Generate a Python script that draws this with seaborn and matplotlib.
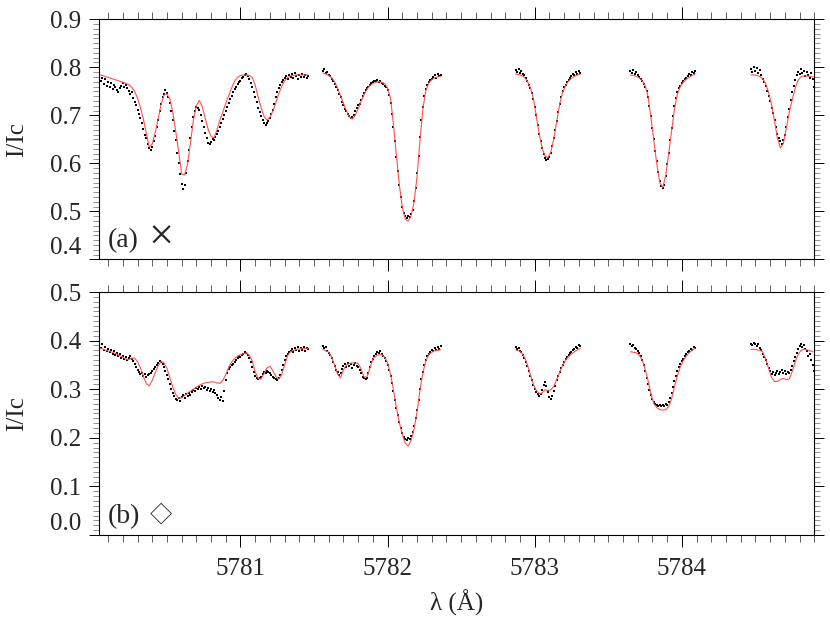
import numpy as np
import pandas as pd
import matplotlib
matplotlib.use("Agg")
import matplotlib.pyplot as plt
import seaborn as sns
from matplotlib.ticker import MultipleLocator, FormatStrFormatter

# ---- wavelength sampling of the five observed windows (first sample, step) ----
seg_starts = [5780.04, 5781.56, 5782.87, 5783.65, 5784.47]
fit_step = 0.02
obs_step = 0.01

# ---------------- panel (a) ----------------
top_fit_1 = [0.785, 0.783, 0.781, 0.779, 0.777, 0.775, 0.773, 0.771, 0.769, 0.767,
             0.764, 0.759, 0.750, 0.736, 0.716, 0.692, 0.662, 0.634, 0.640, 0.664,
             0.692, 0.722, 0.742, 0.745, 0.734, 0.706, 0.666, 0.624, 0.578, 0.576,
             0.598, 0.643, 0.690, 0.720, 0.731, 0.718, 0.694, 0.671, 0.656, 0.653,
             0.670, 0.690, 0.707, 0.725, 0.741, 0.757, 0.771, 0.779, 0.783, 0.784,
             0.784, 0.783, 0.779, 0.763, 0.738, 0.716, 0.698, 0.690, 0.696, 0.709,
             0.726, 0.745, 0.760, 0.772, 0.779, 0.782, 0.783, 0.784, 0.784, 0.784,
             0.784, 0.784]
top_fit_2 = [0.788, 0.786, 0.783, 0.778, 0.770, 0.757, 0.741, 0.725, 0.710, 0.697,
             0.692, 0.700, 0.714, 0.729, 0.743, 0.754, 0.762, 0.766, 0.769, 0.770,
             0.769, 0.766, 0.757, 0.735, 0.680, 0.616, 0.555, 0.508, 0.484, 0.480,
             0.491, 0.520, 0.572, 0.648, 0.714, 0.751, 0.767, 0.774, 0.778, 0.780,
             0.781]
top_fit_3 = [0.786, 0.785, 0.783, 0.779, 0.771, 0.758, 0.736, 0.700, 0.662, 0.632,
             0.615, 0.612, 0.624, 0.652, 0.688, 0.724, 0.748, 0.762, 0.771, 0.777,
             0.781, 0.784, 0.786]
top_fit_4 = [0.784, 0.783, 0.781, 0.778, 0.772, 0.762, 0.740, 0.696, 0.646, 0.598,
             0.560, 0.550, 0.574, 0.619, 0.667, 0.713, 0.744, 0.760, 0.769, 0.775,
             0.779, 0.783, 0.786]
top_fit_5 = [0.784, 0.784, 0.783, 0.781, 0.776, 0.766, 0.748, 0.722, 0.688, 0.653,
             0.632, 0.641, 0.673, 0.706, 0.732, 0.756, 0.773, 0.780, 0.782, 0.782,
             0.781, 0.780]

top_obs_1 = [0.781, 0.772, 0.778, 0.766, 0.775, 0.762, 0.770, 0.758, 0.768, 0.755,
             0.764, 0.760, 0.752, 0.748, 0.757, 0.762, 0.768, 0.760, 0.764, 0.757,
             0.750, 0.744, 0.748, 0.736, 0.728, 0.722, 0.712, 0.702, 0.694, 0.684,
             0.672, 0.660, 0.652, 0.640, 0.632, 0.628, 0.634, 0.646, 0.658, 0.676,
             0.690, 0.708, 0.724, 0.738, 0.744, 0.752, 0.746, 0.738, 0.726, 0.708,
             0.690, 0.668, 0.648, 0.622, 0.600, 0.578, 0.558, 0.546, 0.556, 0.580,
             0.604, 0.628, 0.652, 0.676, 0.696, 0.710, 0.718, 0.716, 0.712, 0.700,
             0.688, 0.676, 0.664, 0.652, 0.642, 0.640, 0.645, 0.650, 0.648, 0.655,
             0.662, 0.668, 0.676, 0.684, 0.692, 0.700, 0.710, 0.718, 0.726, 0.734,
             0.740, 0.748, 0.754, 0.760, 0.766, 0.770, 0.772, 0.778, 0.780, 0.784,
             0.786, 0.781, 0.776, 0.768, 0.758, 0.748, 0.738, 0.728, 0.716, 0.706,
             0.698, 0.690, 0.684, 0.680, 0.684, 0.688, 0.694, 0.702, 0.712, 0.724,
             0.738, 0.748, 0.756, 0.764, 0.770, 0.774, 0.778, 0.782, 0.776, 0.784,
             0.780, 0.786, 0.778, 0.788, 0.782, 0.776, 0.784, 0.780, 0.787, 0.779,
             0.783, 0.777, 0.782]
top_obs_2 = [0.792, 0.796, 0.788, 0.790, 0.784, 0.781, 0.776, 0.771, 0.766, 0.760,
             0.752, 0.744, 0.738, 0.728, 0.722, 0.714, 0.708, 0.702, 0.698, 0.694,
             0.696, 0.700, 0.708, 0.716, 0.722, 0.724, 0.732, 0.740, 0.746, 0.752,
             0.756, 0.760, 0.764, 0.768, 0.770, 0.772, 0.771, 0.774, 0.770, 0.772,
             0.768, 0.766, 0.762, 0.758, 0.752, 0.742, 0.726, 0.702, 0.676, 0.646,
             0.614, 0.584, 0.556, 0.530, 0.510, 0.496, 0.490, 0.486, 0.490, 0.488,
             0.494, 0.504, 0.522, 0.548, 0.580, 0.616, 0.654, 0.690, 0.718, 0.740,
             0.754, 0.764, 0.770, 0.774, 0.776, 0.780, 0.784, 0.778, 0.786, 0.781,
             0.784]
top_obs_3 = [0.794, 0.790, 0.796, 0.788, 0.792, 0.786, 0.784, 0.778, 0.772, 0.764,
             0.756, 0.746, 0.734, 0.718, 0.700, 0.680, 0.662, 0.646, 0.632, 0.620,
             0.612, 0.608, 0.610, 0.614, 0.622, 0.636, 0.652, 0.670, 0.688, 0.706,
             0.724, 0.738, 0.750, 0.758, 0.764, 0.770, 0.774, 0.778, 0.782, 0.786,
             0.784, 0.790, 0.786, 0.792, 0.788]
top_obs_4 = [0.792, 0.788, 0.794, 0.786, 0.790, 0.784, 0.780, 0.776, 0.772, 0.766,
             0.760, 0.750, 0.738, 0.720, 0.698, 0.674, 0.650, 0.626, 0.604, 0.582,
             0.564, 0.552, 0.548, 0.556, 0.574, 0.598, 0.622, 0.648, 0.674, 0.698,
             0.720, 0.736, 0.748, 0.756, 0.762, 0.768, 0.772, 0.776, 0.778, 0.782,
             0.786, 0.784, 0.790, 0.788, 0.792]
top_obs_5 = [0.796, 0.790, 0.800, 0.792, 0.798, 0.788, 0.794, 0.784, 0.776, 0.770,
             0.762, 0.750, 0.740, 0.730, 0.716, 0.704, 0.690, 0.676, 0.662, 0.652,
             0.646, 0.640, 0.648, 0.660, 0.676, 0.696, 0.714, 0.732, 0.748, 0.762,
             0.774, 0.784, 0.790, 0.786, 0.796, 0.788, 0.792, 0.782, 0.790, 0.784,
             0.778, 0.788, 0.776, 0.758]

# ---------------- panel (b) ----------------
bot_fit_1 = [0.385, 0.383, 0.381, 0.379, 0.377, 0.375, 0.372, 0.369, 0.366, 0.362,
             0.361, 0.364, 0.364, 0.357, 0.344, 0.326, 0.311, 0.307, 0.318, 0.334,
             0.348, 0.357, 0.354, 0.343, 0.323, 0.304, 0.289, 0.282, 0.282, 0.287,
             0.292, 0.296, 0.300, 0.304, 0.308, 0.311, 0.313, 0.314, 0.315, 0.315,
             0.313, 0.312, 0.318, 0.330, 0.345, 0.356, 0.363, 0.368, 0.371, 0.373,
             0.375, 0.370, 0.358, 0.336, 0.322, 0.321, 0.332, 0.344, 0.347, 0.338,
             0.326, 0.321, 0.330, 0.350, 0.369, 0.377, 0.380, 0.382, 0.383, 0.384,
             0.384, 0.384]
bot_fit_2 = [0.382, 0.379, 0.376, 0.366, 0.349, 0.331, 0.323, 0.340, 0.350, 0.353,
             0.354, 0.354, 0.353, 0.341, 0.325, 0.325, 0.344, 0.362, 0.368, 0.371,
             0.371, 0.366, 0.355, 0.330, 0.298, 0.262, 0.231, 0.207, 0.189, 0.183,
             0.195, 0.218, 0.253, 0.298, 0.334, 0.358, 0.371, 0.376, 0.379, 0.380,
             0.381]
bot_fit_3 = [0.381, 0.379, 0.375, 0.366, 0.351, 0.330, 0.311, 0.298, 0.291, 0.292,
             0.299, 0.297, 0.299, 0.306, 0.320, 0.335, 0.349, 0.360, 0.367, 0.372,
             0.377, 0.381, 0.384]
bot_fit_4 = [0.377, 0.376, 0.375, 0.370, 0.360, 0.342, 0.318, 0.291, 0.270, 0.262,
             0.258, 0.257, 0.258, 0.264, 0.280, 0.305, 0.328, 0.346, 0.359, 0.368,
             0.375, 0.380, 0.384]
bot_fit_5 = [0.382, 0.382, 0.381, 0.380, 0.377, 0.362, 0.342, 0.324, 0.316, 0.316,
             0.320, 0.322, 0.320, 0.321, 0.336, 0.356, 0.371, 0.380, 0.382, 0.381,
             0.379, 0.377]

bot_obs_1 = [0.390, 0.384, 0.392, 0.380, 0.386, 0.378, 0.383, 0.376, 0.380, 0.372,
             0.378, 0.370, 0.374, 0.368, 0.372, 0.365, 0.369, 0.362, 0.366, 0.360,
             0.364, 0.368, 0.362, 0.358, 0.352, 0.346, 0.340, 0.336, 0.332, 0.334,
             0.328, 0.331, 0.326, 0.329, 0.332, 0.334, 0.338, 0.342, 0.346, 0.350,
             0.354, 0.357, 0.355, 0.352, 0.346, 0.338, 0.330, 0.320, 0.310, 0.300,
             0.292, 0.286, 0.280, 0.278, 0.282, 0.276, 0.284, 0.288, 0.282, 0.290,
             0.286, 0.292, 0.288, 0.294, 0.298, 0.296, 0.302, 0.300, 0.304, 0.300,
             0.306, 0.302, 0.304, 0.298, 0.302, 0.296, 0.300, 0.294, 0.298, 0.292,
             0.288, 0.282, 0.278, 0.284, 0.276, 0.296, 0.318, 0.334, 0.342, 0.346,
             0.350, 0.352, 0.356, 0.360, 0.364, 0.368, 0.366, 0.370, 0.372, 0.376,
             0.374, 0.370, 0.364, 0.356, 0.346, 0.336, 0.328, 0.322, 0.320, 0.322,
             0.326, 0.332, 0.336, 0.334, 0.338, 0.336, 0.334, 0.330, 0.326, 0.322,
             0.320, 0.318, 0.322, 0.330, 0.340, 0.350, 0.360, 0.368, 0.372, 0.376,
             0.378, 0.382, 0.376, 0.384, 0.380, 0.386, 0.378, 0.384, 0.381, 0.386,
             0.379, 0.385, 0.382]
bot_obs_2 = [0.388, 0.384, 0.386, 0.378, 0.374, 0.370, 0.364, 0.356, 0.348, 0.340,
             0.336, 0.330, 0.334, 0.342, 0.348, 0.352, 0.346, 0.354, 0.348, 0.352,
             0.344, 0.350, 0.354, 0.348, 0.346, 0.340, 0.334, 0.326, 0.322, 0.320,
             0.324, 0.334, 0.346, 0.356, 0.362, 0.368, 0.372, 0.376, 0.374, 0.378,
             0.372, 0.368, 0.364, 0.358, 0.350, 0.340, 0.328, 0.312, 0.296, 0.278,
             0.262, 0.246, 0.232, 0.220, 0.210, 0.202, 0.198, 0.196, 0.200, 0.198,
             0.204, 0.212, 0.224, 0.240, 0.258, 0.278, 0.300, 0.320, 0.336, 0.350,
             0.360, 0.368, 0.372, 0.376, 0.380, 0.378, 0.384, 0.380, 0.386, 0.382,
             0.388]
bot_obs_3 = [0.386, 0.382, 0.384, 0.378, 0.376, 0.370, 0.364, 0.356, 0.348, 0.338,
             0.328, 0.318, 0.308, 0.300, 0.294, 0.290, 0.286, 0.290, 0.298, 0.308,
             0.314, 0.306, 0.294, 0.284, 0.280, 0.286, 0.296, 0.306, 0.318, 0.328,
             0.336, 0.344, 0.350, 0.356, 0.362, 0.366, 0.370, 0.374, 0.376, 0.380,
             0.382, 0.386, 0.384, 0.390, 0.388]
bot_obs_4 = [0.392, 0.388, 0.390, 0.384, 0.382, 0.378, 0.374, 0.368, 0.360, 0.350,
             0.338, 0.324, 0.310, 0.298, 0.288, 0.280, 0.274, 0.270, 0.268, 0.266,
             0.268, 0.265, 0.268, 0.266, 0.270, 0.268, 0.274, 0.282, 0.292, 0.304,
             0.316, 0.328, 0.338, 0.346, 0.352, 0.358, 0.362, 0.368, 0.372, 0.376,
             0.378, 0.382, 0.380, 0.386, 0.384]
bot_obs_5 = [0.394, 0.390, 0.396, 0.392, 0.388, 0.392, 0.384, 0.380, 0.372, 0.366,
             0.360, 0.352, 0.344, 0.338, 0.332, 0.336, 0.330, 0.334, 0.338, 0.332,
             0.336, 0.340, 0.334, 0.338, 0.332, 0.336, 0.334, 0.340, 0.348, 0.358,
             0.366, 0.374, 0.382, 0.388, 0.394, 0.386, 0.390, 0.382, 0.378, 0.368,
             0.372, 0.360, 0.350, 0.338]

panel_labels = ["(a)", "(b)"]
panel_symbols = ["\u00d7", "\u25c7"]
y_label = "I/Ic"
x_label = "\u03bb (\u00c5)"
x_ticks = [5781, 5782, 5783, 5784]
x_limits = (5780.04, 5784.90)
y_limits = [(0.4, 0.9), (0.0, 0.5)]

fits = [[top_fit_1, top_fit_2, top_fit_3, top_fit_4, top_fit_5],
        [bot_fit_1, bot_fit_2, bot_fit_3, bot_fit_4, bot_fit_5]]
obs = [[top_obs_1, top_obs_2, top_obs_3, top_obs_4, top_obs_5],
       [bot_obs_1, bot_obs_2, bot_obs_3, bot_obs_4, bot_obs_5]]


def build_frame(series, step):
    rows = []
    for seg, (start, vals) in enumerate(zip(seg_starts, series)):
        wl = np.round(start + step * np.arange(len(vals)), 3)
        for w, v in zip(wl, vals):
            rows.append({"wl": w, "val": v, "seg": seg})
    return pd.DataFrame(rows)


sns.set_style("ticks")
plt.rcParams["font.family"] = ["Liberation Serif", "Noto Sans CJK SC", "DejaVu Sans"]

fig = plt.figure(figsize=(8.3, 6.23), dpi=100)
axes = [fig.add_axes([0.1196, 0.5835, 0.8614, 0.3856]),
        fig.add_axes([0.1196, 0.1413, 0.8614, 0.3900])]

label_y = [0.08, 0.075]
for i, ax in enumerate(axes):
    df_fit = build_frame(fits[i], fit_step)
    df_obs = build_frame(obs[i], obs_step)
    sns.lineplot(data=df_fit, x="wl", y="val", units="seg", estimator=None,
                 sort=False, color="#ff5050", linewidth=0.8, ax=ax, legend=False)
    sns.scatterplot(data=df_obs, x="wl", y="val", color="black", marker="s",
                    s=3.8, linewidth=0, ax=ax, legend=False)

    ax.set_xlim(*x_limits)
    ax.set_ylim(*y_limits[i])
    ax.xaxis.set_major_locator(plt.FixedLocator(x_ticks))
    ax.xaxis.set_minor_locator(MultipleLocator(0.1))
    ax.yaxis.set_major_locator(MultipleLocator(0.1))
    ax.yaxis.set_minor_locator(MultipleLocator(0.01))
    ax.yaxis.set_major_formatter(FormatStrFormatter("%.1f"))
    ax.tick_params(which="both", direction="out", top=True, right=True,
                   width=0.7, color="black")
    ax.tick_params(axis="x", which="major", length=8.5, labelsize=18, pad=8)
    ax.tick_params(axis="x", which="minor", length=5, width=0.6, color="#444444")
    ax.tick_params(axis="y", which="major", length=7, labelsize=18, pad=6)
    ax.tick_params(axis="y", which="minor", length=4.3, width=0.5, color="#666666")
    for sp in ax.spines.values():
        sp.set_linewidth(0.8)
        sp.set_color("black")
    ax.set_ylabel(y_label, fontsize=18)
    ax.yaxis.set_label_coords(-0.10, 0.5)
    ax.set_xlabel("")
    ax.text(0.012, label_y[i], panel_labels[i], transform=ax.transAxes,
            fontsize=20, ha="left", va="center")
    ax.text(0.086, label_y[i] + 0.006, panel_symbols[i], transform=ax.transAxes,
            fontsize=32 if i == 0 else 16, ha="center", va="center")

axes[0].tick_params(axis="x", labelbottom=False)
axes[1].set_xlabel(x_label, fontsize=18, labelpad=7)
axes[1].xaxis.set_major_formatter(FormatStrFormatter("%d"))

# lowest y tick label of each panel sits just above the axis corner
fig.canvas.draw()
for i, ax in enumerate(axes):
    for tick in ax.yaxis.get_major_ticks():
        if abs(tick.get_loc() - y_limits[i][0]) < 1e-6:
            tick.label1.set_verticalalignment("bottom")

fig.savefig("out.png", dpi=100)
